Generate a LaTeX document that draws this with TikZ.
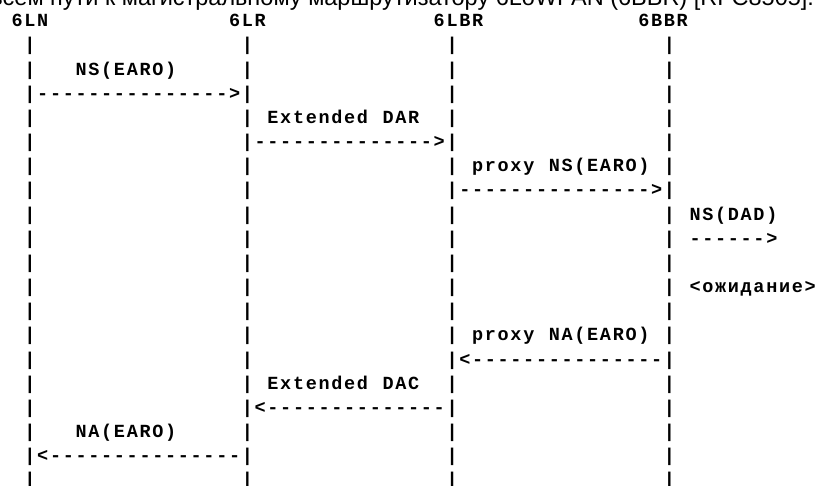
\documentclass[tikz,border=0pt]{standalone}
\usepackage{fontspec}
\newfontfamily\asciifont{Liberation Mono}
\newfontfamily\capfont{Liberation Sans}
\newlength\cw
\setlength\cw{12.79pt}
\newcommand\cells[1]{\cellsA#1\relax}
\def\cellsA#1{\ifx\relax#1\else\makebox[\cw][c]{#1}\expandafter\cellsA\fi}
\newcommand\asc[4]{\node[ascii] (#1) at ({-1.98+#2*12.79},{26.7+#3*24.17}) {\cells{#4}};}
\tikzset{
  ascii/.style={anchor=base west, inner sep=0pt, outer sep=0pt,
    font=\asciifont\fontsize{18.5}{21}\selectfont\bfseries, text=black},
  captext/.style={anchor=base east, inner sep=0pt, outer sep=0pt,
    font=\capfont\fontsize{23.5}{27}\selectfont, text=black}
}
\begin{document}
\begin{tikzpicture}[x=1pt,y=-1pt]
\useasboundingbox (0,0) rectangle (817,486);
\fill[white] (0,0) rectangle (817,486);
\clip (0,0) rectangle (817,486);
\node[captext] (cap) at (814,5.5) {Регистрация на всём пути к магистральному маршрутизатору 6LoWPAN (6BBR) [RFC8505].};
% header
\asc{h1}{1}{0}{6LN}
\asc{h2}{18}{0}{6LR}
\asc{h3}{34}{0}{6LBR}
\asc{h4}{50}{0}{6BBR}
% lifelines
\foreach \r in {1,...,19}{
  \foreach \c in {2,19,35,52}{
    \asc{p\c-\r}{\c}{\r}{|}
  }
}
% messages
\asc{m1}{6}{2}{NS(EARO)}
\asc{a1}{3}{3}{--------------->}
\asc{m2}{21}{4}{Extended~DAR}
\asc{a2}{20}{5}{-------------->}
\asc{m3}{37}{6}{proxy~NS(EARO)}
\asc{a3}{36}{7}{--------------->}
\asc{m4}{54}{8}{NS(DAD)}
\asc{a4}{54}{9}{------>}
\asc{m5}{54}{11}{<ожидание>}
\asc{m6}{37}{13}{proxy~NA(EARO)}
\asc{a6}{36}{14}{<---------------}
\asc{m7}{21}{15}{Extended~DAC}
\asc{a7}{20}{16}{<--------------}
\asc{m8}{6}{17}{NA(EARO)}
\asc{a8}{3}{18}{<---------------}
\end{tikzpicture}
\end{document}
